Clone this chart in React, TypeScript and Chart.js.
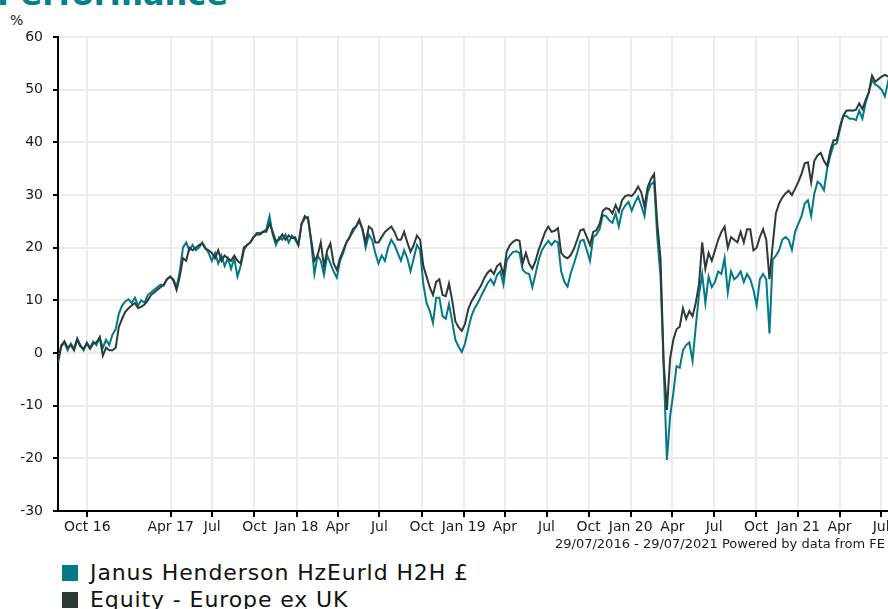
import React, { useEffect, useRef } from "react";
import { Chart, registerables } from "chart.js";

Chart.register(...registerables);

const titleText = "Performance";
const yUnitLabel = "%";
const seriesNames = ["Janus Henderson HzEurld H2H £", "Equity - Europe ex UK"];
const seriesColors = ["#007a8a", "#2d3a37"];
const footerText = "29/07/2016 - 29/07/2021 Powered by data from FE";

// day offsets from 29/07/2016
const totalDays = 1826;
const pointStepDays = 7;
const tickDays = [64, 246, 337, 429, 521, 611, 702, 794, 886, 976, 1067, 1159, 1251, 1342, 1433, 1525, 1617, 1707, 1798];
const tickLabels = ["Oct 16", "Apr 17", "Jul", "Oct", "Jan 18", "Apr", "Jul", "Oct", "Jan 19", "Apr", "Jul", "Oct", "Jan 20", "Apr", "Jul", "Oct", "Jan 21", "Apr", "Jul"];
const yMin = -30;
const yMax = 60;
const yStep = 10;

// weekly cumulative performance (%)
const fundValues = [
  -1.5, 1.5, 2.0, 0.5, 1.8, 0.8, 2.8, 1.5, 0.5, 2.0, 1.0, 2.2, 1.5, 3.0, 1.0, 2.5, 1.5, 3.5, 4.5, 7.5, 9.0,
  9.8, 10.2, 9.5, 10.5, 9.0, 10.0, 9.5, 11.0, 11.5, 12.0, 12.5, 13.0, 12.8, 14.0, 14.5, 14.0, 12.5, 15.5, 20.0, 21.0,
  19.5, 20.5, 19.5, 20.0, 21.0, 20.0, 19.0, 17.5, 19.0, 17.0, 18.5, 16.5, 18.0, 16.0, 18.0, 14.5, 16.5, 19.5, 20.5, 21.0,
  22.0, 22.8, 22.8, 23.0, 23.5, 26.0, 22.5, 20.5, 22.0, 21.5, 22.5, 21.0, 22.3, 21.5, 20.5, 24.5, 25.5, 25.8, 21.0, 15.0,
  18.5, 17.5, 14.8, 18.5, 17.0, 15.5, 14.3, 17.5, 19.0, 21.0, 22.0, 23.0, 24.0, 25.0, 23.5, 20.0, 22.5, 21.5, 19.0, 17.0,
  18.5, 17.5, 20.0, 21.5, 20.5, 19.0, 17.5, 19.5, 18.0, 15.5, 18.0, 20.5, 19.5, 13.0, 9.5, 8.0, 5.7, 10.5, 10.5, 7.0,
  6.5, 9.3, 6.0, 2.5, 1.2, 0.2, 1.8, 4.5, 7.0, 8.5, 9.5, 10.8, 12.0, 13.2, 14.0, 13.0, 14.8, 15.5, 13.0, 17.5,
  18.5, 19.2, 19.3, 19.0, 15.8, 15.2, 15.0, 12.5, 15.0, 17.7, 19.5, 20.5, 21.3, 20.5, 21.3, 21.0, 15.5, 13.5, 12.6, 15.2,
  17.0, 19.0, 21.3, 21.5, 19.5, 17.5, 22.0, 22.5, 23.5, 26.2, 26.0, 25.2, 24.7, 26.5, 24.0, 27.0, 28.0, 28.7, 27.0, 28.5,
  29.7, 28.0, 26.0, 30.5, 32.0, 32.5, 22.0, 14.5, -3.0, -20.3, -12.0, -7.6, -2.5, -2.8, 0.5, 1.5, 2.0, -1.5, 5.0, 11.0,
  15.0, 9.5, 14.5, 12.5, 13.5, 15.5, 15.0, 18.0, 11.5, 15.5, 14.0, 14.5, 15.5, 13.5, 15.0, 14.0, 12.0, 9.0, 14.0, 15.0,
  14.0, 3.7, 17.7, 18.5, 19.5, 21.5, 22.0, 21.5, 19.6, 23.0, 24.5, 26.0, 28.4, 29.0, 26.0, 30.3, 32.5, 32.0, 30.9, 35.0,
  37.5, 39.5, 39.8, 42.5, 45.0, 45.0, 44.5, 44.5, 44.2, 46.0, 44.5, 47.5, 49.5, 51.8, 51.0, 50.6, 50.0, 48.7, 51.5, 50.0, 50.5,
];

const sectorValues = [
  -1.8, 1.2, 2.2, 1.0, 1.5, 0.5, 2.5, 1.2, 0.8, 1.8, 0.8, 1.8, 2.0, 3.0, -0.5, 1.0, 0.5, 0.5, 1.0, 5.0, 6.5,
  7.8, 8.5, 9.0, 9.5, 8.5, 8.8, 9.2, 10.0, 11.0, 11.5, 12.0, 12.5, 13.0, 14.0, 14.5, 13.8, 12.0, 14.5, 18.0, 17.5,
  20.0, 19.5, 20.0, 20.5, 20.8, 19.8, 19.5, 19.0, 18.0, 19.5, 17.5, 18.5, 18.0, 17.5, 18.5, 17.5, 17.0, 20.0, 20.5, 21.0,
  22.0, 22.5, 22.5, 23.0, 23.0, 24.6, 23.0, 21.2, 21.5, 22.5, 21.5, 22.3, 21.8, 22.0, 20.5, 24.5, 26.0, 25.5, 21.5, 17.5,
  18.5, 21.0, 16.5, 19.5, 20.8, 17.0, 15.8, 18.0, 19.5, 21.0, 22.0, 23.5, 24.0, 25.3, 23.5, 21.0, 24.0, 23.5, 21.0, 21.0,
  22.0, 23.0, 23.5, 24.0, 23.0, 21.5, 21.5, 23.0, 21.0, 19.2, 20.5, 22.3, 21.5, 16.5, 14.5, 12.5, 11.0, 13.5, 14.0, 11.0,
  10.8, 13.2, 10.0, 6.0, 4.9, 4.2, 5.5, 8.3, 9.8, 10.8, 11.8, 12.8, 14.2, 15.2, 15.8, 15.0, 16.5, 17.0, 14.8, 19.2,
  20.5, 21.1, 21.5, 21.3, 17.0, 19.0, 17.0, 16.0, 17.5, 19.6, 21.3, 23.0, 24.0, 23.0, 23.2, 23.7, 19.0, 18.3, 18.0, 18.6,
  19.8, 21.5, 23.3, 23.5, 22.0, 20.5, 23.0, 23.3, 24.5, 27.0, 27.5, 27.3, 26.5, 28.1, 26.8, 29.0, 29.8, 30.0, 29.8, 30.5,
  31.6, 30.5, 27.8, 31.5, 33.0, 34.0, 24.5, 18.0, -2.0, -10.8, -1.0, 2.5, 4.5, 5.0, 8.5, 6.5, 8.0, 7.0, 9.5, 13.0,
  21.0, 16.0, 19.0, 17.5, 19.5, 21.5, 23.0, 24.0, 20.0, 22.0, 21.5, 21.0, 23.0, 21.0, 23.5, 23.5, 19.5, 20.0, 22.0, 23.5,
  21.5, 14.0, 20.5, 26.5, 28.4, 29.5, 30.3, 30.8, 30.0, 31.2, 32.5, 34.0, 36.0, 36.2, 32.4, 36.5, 37.5, 38.0, 36.5, 35.5,
  38.5, 40.4, 40.4, 43.0, 45.0, 46.0, 46.1, 46.0, 46.2, 47.4, 46.3, 48.0, 49.5, 52.7, 51.5, 52.0, 52.5, 52.8, 52.5, 52.5, 52.8,
];

const FONT = "'DejaVu Sans', Verdana, sans-serif";
const CW = 920;
const CH = 545;
const AREA_LEFT = 58;
const AREA_TOP = 37;
const AREA_BOTTOM = 511;
const AREA_RIGHT = 894;

function toPoints(values: number[]) {
  return values.map((v, i) => ({ x: Math.min(i * pointStepDays, totalDays), y: v }));
}

export default function App() {
  const canvasRef = useRef<HTMLCanvasElement | null>(null);

  useEffect(() => {
    const canvas = canvasRef.current;
    if (!canvas) return;
    const gridColor = "#ececec";
    const chart = new Chart(canvas, {
      type: "line",
      data: {
        datasets: [
          {
            label: seriesNames[0],
            data: toPoints(fundValues),
            borderColor: seriesColors[0],
            backgroundColor: seriesColors[0],
            borderWidth: 2,
            pointRadius: 0,
            tension: 0,
            order: 2,
          },
          {
            label: seriesNames[1],
            data: toPoints(sectorValues),
            borderColor: seriesColors[1],
            backgroundColor: seriesColors[1],
            borderWidth: 2,
            pointRadius: 0,
            tension: 0,
            order: 1,
          },
        ],
      },
      options: {
        animation: false,
        responsive: false,
        maintainAspectRatio: false,
        events: [],
        layout: { padding: { top: AREA_TOP, left: 0, right: CW - AREA_RIGHT, bottom: 0 } },
        plugins: { legend: { display: false }, tooltip: { enabled: false }, title: { display: false } },
        scales: {
          x: {
            type: "linear",
            min: 0,
            max: totalDays,
            afterBuildTicks: (s: any) => {
              s.ticks = tickDays.map((v) => ({ value: v }));
            },
            afterFit: (s: any) => {
              s.height = CH - AREA_BOTTOM;
              s.paddingLeft = 0;
              s.paddingRight = 0;
            },
            ticks: {
              autoSkip: false,
              maxRotation: 0,
              minRotation: 0,
              color: "#1a1a1a",
              padding: 2,
              font: { family: FONT, size: 14 },
              callback: (_v: any, i: number) => tickLabels[i],
            },
            grid: { color: gridColor, lineWidth: 2, tickColor: "#000", tickLength: 6, tickWidth: 2 },
            border: { color: "#000", width: 2 },
          },
          y: {
            min: yMin,
            max: yMax,
            afterFit: (s: any) => {
              s.width = AREA_LEFT;
              s.paddingTop = 0;
              s.paddingBottom = 0;
            },
            ticks: {
              stepSize: yStep,
              color: "#1a1a1a",
              padding: 10,
              font: { family: FONT, size: 14 },
            },
            grid: { color: gridColor, lineWidth: 2, tickColor: "#000", tickLength: 5, tickWidth: 2 },
            border: { color: "#000", width: 2 },
          },
        },
      },
    } as any);
    return () => chart.destroy();
  }, []);

  return (
    <div
      style={{
        position: "fixed",
        left: 0,
        top: 0,
        width: 888,
        height: 609,
        overflow: "hidden",
        background: "#fff",
        fontFamily: FONT,
      }}
    >
      <div
        style={{
          position: "absolute",
          left: -3,
          top: -22,
          fontSize: 32,
          lineHeight: "32px",
          fontWeight: 700,
          color: "#00818f",
          whiteSpace: "nowrap",
        }}
      >
        {titleText}
      </div>
      <div style={{ position: "absolute", left: 10, top: 12, fontSize: 14, color: "#1a1a1a" }}>{yUnitLabel}</div>
      <canvas ref={canvasRef} width={CW} height={CH} style={{ position: "absolute", left: 0, top: 0, width: CW, height: CH }} />
      <div
        style={{
          position: "absolute",
          left: 555,
          top: 536,
          fontSize: 13,
          lineHeight: "15px",
          color: "#1a1a1a",
          whiteSpace: "nowrap",
        }}
      >
        {footerText}
      </div>
      {seriesNames.map((name, i) => (
        <div
          key={name}
          style={{
            position: "absolute",
            left: 62,
            top: 559 + i * 27,
            display: "flex",
            alignItems: "center",
            whiteSpace: "nowrap",
            fontSize: 22,
            letterSpacing: "0.9px",
            lineHeight: "27px",
            color: "#111",
          }}
        >
          <span style={{ display: "inline-block", width: 16, height: 16, background: seriesColors[i], marginRight: 12 }} />
          <span>{name}</span>
        </div>
      ))}
    </div>
  );
}
